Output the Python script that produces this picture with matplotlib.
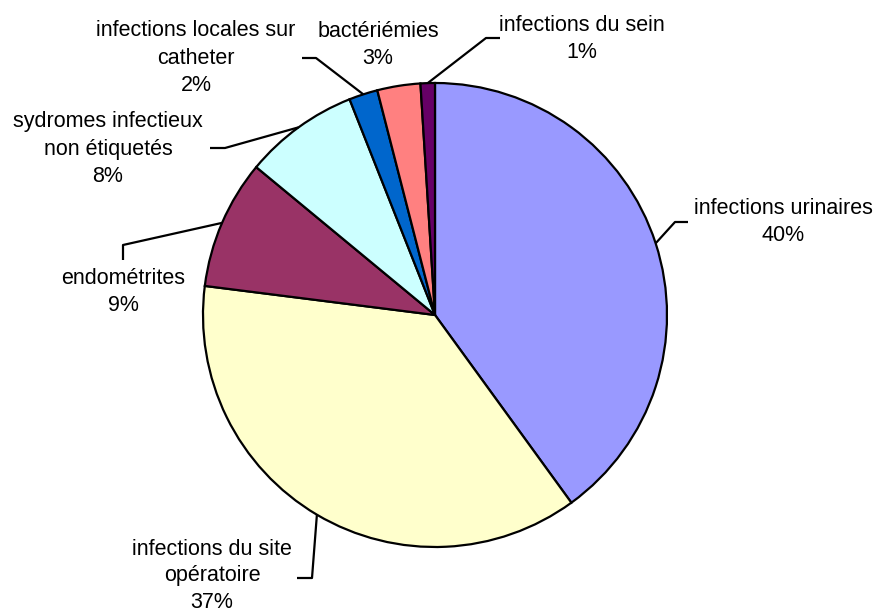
import numpy as np
import matplotlib
matplotlib.use("Agg")
from matplotlib import pyplot as plt

plt.rcParams['font.family'] = ['Liberation Sans', 'DejaVu Sans']

# donnees
categories = ['infections urinaires', 'infections du site\nopératoire', 'endométrites',
              'sydromes infectieux\nnon étiquetés', 'infections locales sur\ncatheter',
              'bactériémies', 'infections du sein']
values = [40, 37, 9, 8, 2, 3, 1]
colors = ['#9999FF', '#FFFFCC', '#993366', '#CCFFFF', '#0066CC', '#FF8080', '#660066']

H = 613  # hauteur en pixels, pour passer des coordonnees image (y vers le bas) a y vers le haut

# position du texte (centre) et coude de la ligne de rappel, en pixels image
label_pos = [(783, 222), (212, 576), (123, 292), (108, 149), (196, 58), (378, 45), (582, 39)]
elbows = [[(675, 222), (688, 222)], [(312, 578), (297, 578)], [(123, 245), (123, 260)],
          [(225, 148), (210, 148)], [(316, 58), (302, 58)], None, [(486, 38), (500, 38)]]
spacing = [1.42, 1.36, 1.42, 1.42, 1.42, 1.42, 1.42]

fig = plt.figure(figsize=(8.77, 6.13), dpi=100)
ax = fig.add_axes([0, 0, 1, 1])

cx, cy, r = 435, H - 315, 232
wedges, _ = ax.pie(values, colors=colors, startangle=90, counterclock=False,
                   center=(cx, cy), radius=r, frame=True,
                   wedgeprops=dict(edgecolor='black', linewidth=1.6))
ax.set_xlim(0, 877)
ax.set_ylim(0, H)
ax.set_aspect('equal')
ax.axis('off')

for w, name, v, pos, elb, ls in zip(wedges, categories, values, label_pos, elbows, spacing):
    ax.text(pos[0], H - pos[1], f"{name}\n{v}%", ha='center', va='center',
            fontsize=15.5, linespacing=ls, color='black')
    if elb is None:
        continue
    mid = np.deg2rad((w.theta1 + w.theta2) / 2)
    sx, sy = cx + r * np.cos(mid), cy + r * np.sin(mid)
    xs = [sx] + [p[0] for p in elb]
    ys = [sy] + [H - p[1] for p in elb]
    ax.plot(xs, ys, color='black', linewidth=1.6, solid_capstyle='butt')

fig.savefig('out.png', dpi=100)
